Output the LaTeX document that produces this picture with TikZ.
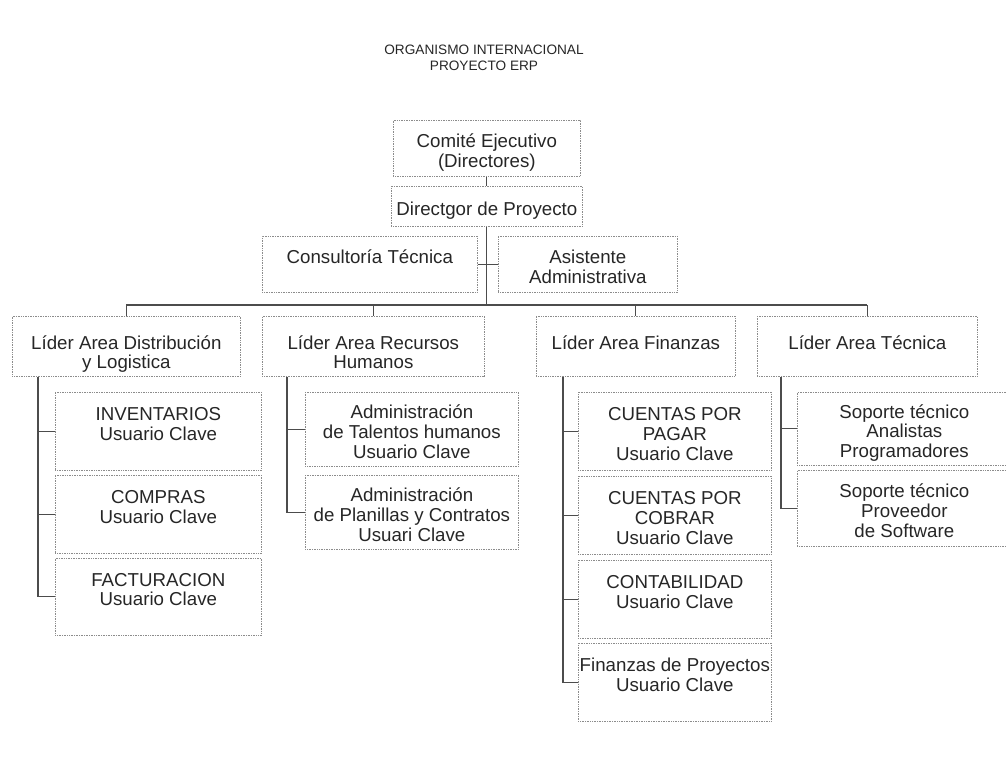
\documentclass[tikz,border=0pt]{standalone}
\usepackage{fontspec}
\setmainfont{Liberation Sans}
\usetikzlibrary{calc}
\usetikzlibrary{positioning}

\newlength\unitpx
\setlength\unitpx{0.025cm}
\newcommand\cajafont{\fontsize{13.3}{14}\selectfont}
\newcommand\titfont{\fontsize{9.7}{11.6}\selectfont}
% first line a bit lower, as in the scan
\newcommand\sube{\rule{0pt}{17pt}}
\newcommand\subel{\rule{0pt}{22pt}}

\begin{document}
\begin{tikzpicture}[%
  x=\unitpx, y=-\unitpx,
  caja/.style={draw=black!45, dash pattern=on 0.7pt off 0.5pt, line width=0.5pt,
    align=center, anchor=north west, inner xsep=0.5pt, inner ysep=1pt,
    font=\cajafont, text=black!85, execute at end node={\strut}},
  tam/.style 2 args={minimum width=#1*\unitpx, minimum height=#2*\unitpx},
  enlace/.style={draw=black!70, line width=0.9pt}
]
  \useasboundingbox (0,0) rectangle (1006,778);

  \node[font=\titfont, align=center, text=black!85] (titulo) at (484,58)
    {ORGANISMO INTERNACIONAL\\PROYECTO ERP};

  % direccion
  \node[caja, tam={187}{56}] (comite) at (393,120) {\sube Comité Ejecutivo\\(Directores)};
  \node[caja, tam={191}{40}] (director) at (391,186) {\sube Directgor de Proyecto};
  \node[caja, tam={215}{56}] (consult) at (262,236) {\sube Consultoría Técnica\\\strut};
  \node[caja, tam={179}{56}] (asist) at (498,236) {\sube Asistente\\Administrativa};

  % lideres
  \node[caja, tam={228}{60}] (lDist) at (12,316) {\subel Líder Area Distribución\\y Logistica};
  \node[caja, tam={222}{60}] (lRRHH) at (262,316) {\subel Líder Area Recursos\\Humanos};
  \node[caja, tam={199}{60}] (lFin) at (536,316) {\subel Líder Area Finanzas\\\strut};
  \node[caja, tam={220}{60}] (lTec) at (757,316) {\subel Líder Area Técnica\\\strut};

  % distribucion
  \node[caja, tam={206}{78}] (inv) at (55,392) {\sube INVENTARIOS\\Usuario Clave\\\strut};
  \node[caja, tam={206}{78}] (compras) at (55,475) {\sube COMPRAS\\Usuario Clave\\\strut};
  \node[caja, tam={206}{77}] (fact) at (55,558) {\sube FACTURACION\\Usuario Clave\\\strut};

  % recursos humanos
  \node[caja, tam={213}{74}] (talentos) at (305,392)
    {\sube Administración\\de Talentos humanos\\Usuario Clave};
  \node[caja, tam={213}{74}] (planillas) at (305,475)
    {\sube Administración\\de Planillas y Contratos\\Usuari Clave};

  % finanzas
  \node[caja, tam={193}{78}] (cxp) at (578,392) {\sube CUENTAS POR\\PAGAR\\Usuario Clave};
  \node[caja, tam={193}{78}] (cxc) at (578,476) {\sube CUENTAS POR\\COBRAR\\Usuario Clave};
  \node[caja, tam={193}{78}] (conta) at (578,560) {\sube CONTABILIDAD\\Usuario Clave\\\strut};
  \node[caja, tam={193}{78}] (finproy) at (578,643)
    {\sube Finanzas de Proyectos\\Usuario Clave\\\strut};

  % tecnica
  \node[caja, tam={214}{73}] (soporteA) at (797,392)
    {\sube Soporte técnico\\Analistas\\Programadores};
  \node[caja, tam={214}{76}] (soporteP) at (797,470)
    {\sube Soporte técnico\\Proveedor\\de Software};

  % conectores
  \coordinate (bus) at (0,305);
  \draw[enlace] (comite) -- (director);
  \draw[enlace] (director.south) -- (director.south |- bus);
  \draw[enlace] (consult.east) -- (asist.west);
  \draw[enlace] (lDist.north |- bus) -- (lTec.north |- bus);
  \foreach \n in {lDist,lRRHH,lFin,lTec}
    \draw[enlace] (\n.north |- bus) -- (\n.north);

  \coordinate (eDist) at ($(lDist.south west)+(26,0)$);
  \coordinate (eRRHH) at ($(lRRHH.south west)+(25,0)$);
  \coordinate (eFin) at ($(lFin.south west)+(27,0)$);
  \coordinate (eTec) at ($(lTec.south west)+(24,0)$);

  \draw[enlace] (eDist) |- (fact.west);
  \foreach \n in {inv,compras}
    \draw[enlace] (\n.west -| eDist) -- (\n.west);
  \draw[enlace] (eRRHH) |- (planillas.west);
  \draw[enlace] (talentos.west -| eRRHH) -- (talentos.west);
  \draw[enlace] (eFin) |- (finproy.west);
  \foreach \n in {cxp,cxc,conta}
    \draw[enlace] (\n.west -| eFin) -- (\n.west);
  \draw[enlace] (eTec) |- (soporteP.west);
  \draw[enlace] (soporteA.west -| eTec) -- (soporteA.west);

\end{tikzpicture}
\end{document}
